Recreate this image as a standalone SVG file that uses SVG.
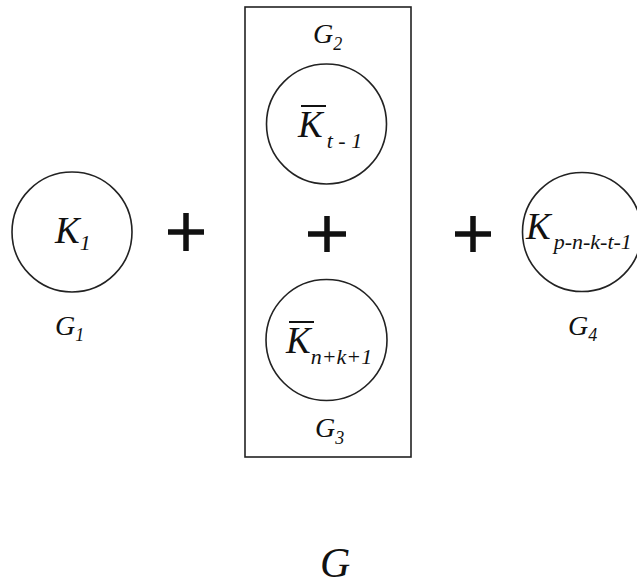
<svg xmlns="http://www.w3.org/2000/svg" width="637" height="586" viewBox="0 0 637 586">
<style>
.c{fill:none;stroke:#222;stroke-width:1.6}
.t{font-family:"Liberation Serif","DejaVu Serif",serif;font-style:italic;fill:#111}
.k{font-size:37px}
.s{font-size:22px}
.g{font-size:28px}
.gs{font-size:18px}
.p{stroke:#111;stroke-width:5.5;fill:none}
.b{stroke:#111;stroke-width:2}
</style>
<rect width="637" height="586" fill="#fff"/>
<g id="G1">
<circle class="c" cx="72" cy="232" r="60"/>
<text class="t k" x="55" y="243">K<tspan class="s" dy="7">1</tspan></text>
<text class="t g" x="55" y="335">G<tspan class="gs" dy="6">1</tspan></text>
</g>
<g id="box">
<rect x="245" y="7" width="166" height="450" fill="none" stroke="#222" stroke-width="1.6"/>
</g>
<g id="G2">
<text class="t g" x="313" y="43">G<tspan class="gs" dy="7">2</tspan></text>
<circle class="c" cx="326.5" cy="124" r="60"/>
<line class="b" x1="301" y1="106" x2="326" y2="106"/>
<text class="t k" x="298" y="137">K<tspan class="s" dx="4" dy="11">t - 1</tspan></text>
</g>
<g id="G3">
<circle class="c" cx="326.5" cy="340" r="60.5"/>
<line class="b" x1="289" y1="322" x2="314" y2="322"/>
<text class="t k" x="286" y="353">K<tspan class="s" dy="11">n+k+1</tspan></text>
<text class="t g" x="315" y="437">G<tspan class="gs" dy="7">3</tspan></text>
</g>
<g id="G4">
<circle class="c" cx="582" cy="232" r="59.5"/>
<text class="t k" x="526" y="239">K<tspan class="s" dx="3" dy="10">p-n-k-t-1</tspan></text>
<text class="t g" x="568" y="335">G<tspan class="gs" dy="6">4</tspan></text>
</g>
<g id="operators">
<path class="p" d="M168 232H204M186 213V251"/>
<path class="p" d="M308 234H346M327 216V252"/>
<path class="p" d="M455 234H491M473 216V252"/>
</g>
<g id="connectors"></g>
<g id="G">
<text class="t" font-size="42" x="320" y="577">G</text>
</g>
</svg>
